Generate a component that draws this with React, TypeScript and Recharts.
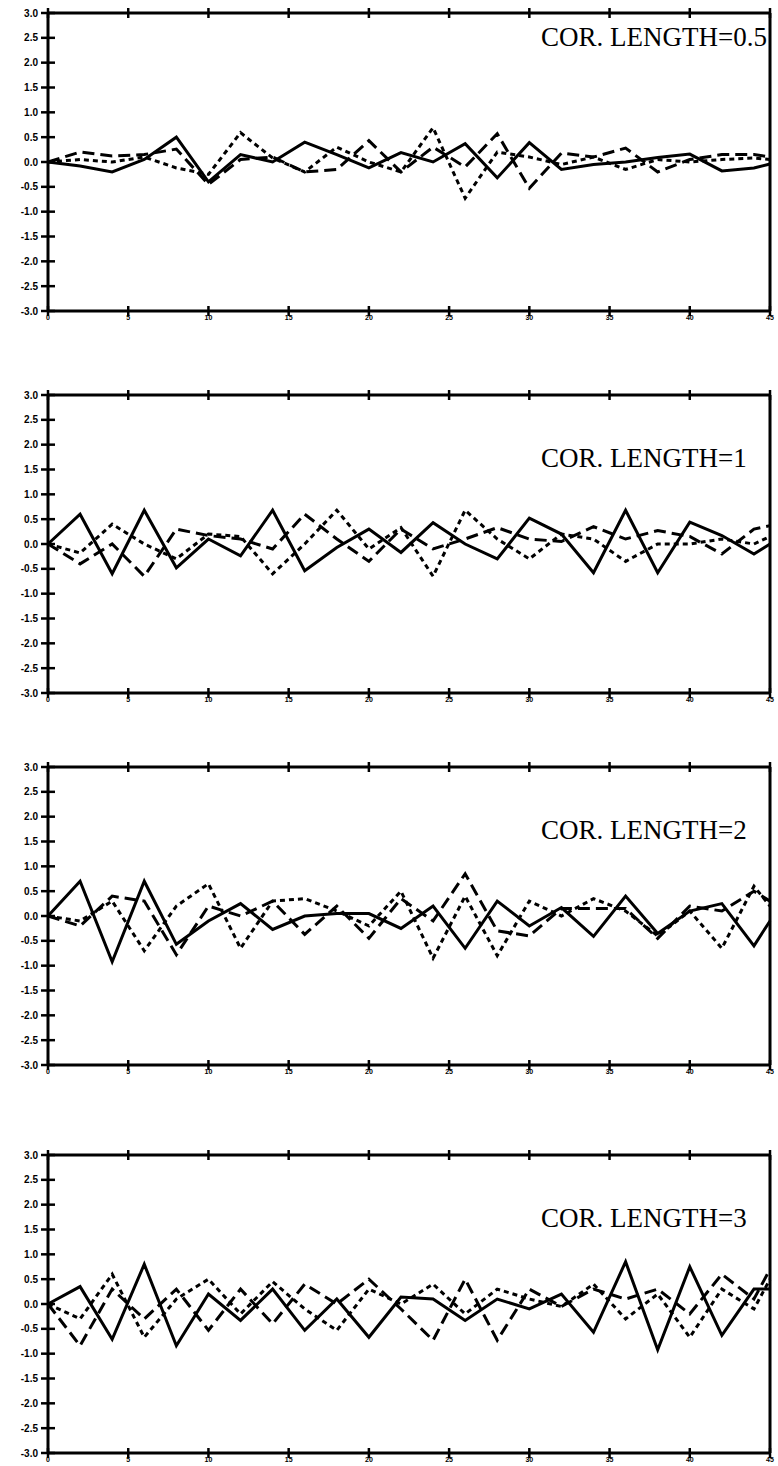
import { LineChart, Line, XAxis, YAxis } from 'recharts';

// sample positions along the profile (last point closes the frame)
const xValues = [0, 2, 4, 6, 8, 10, 12, 14, 16, 18, 20, 22, 24, 26, 28, 30, 32, 34, 36, 38, 40, 42, 44, 45];
const xTicks = [0, 5, 10, 15, 20, 25, 30, 35, 40, 45];
const yTicks = [-3, -2.5, -2, -1.5, -1, -0.5, 0, 0.5, 1, 1.5, 2, 2.5, 3];

// correlation length 0.5
const solid05 = [0, -0.08, -0.2, 0.05, 0.5, -0.4, 0.15, 0.0, 0.4, 0.15, -0.12, 0.19, 0.0, 0.37, -0.32, 0.39, -0.15, -0.05, 0.0, 0.09, 0.16, -0.18, -0.12, -0.04];
const dashed05 = [0, 0.2, 0.12, 0.15, 0.26, -0.45, 0.05, 0.1, -0.2, -0.15, 0.43, -0.2, 0.3, -0.1, 0.57, -0.53, 0.18, 0.1, 0.28, -0.2, 0.05, 0.15, 0.15, 0.1];
const dotted05 = [0, 0.05, 0.0, 0.1, -0.12, -0.25, 0.59, 0.08, -0.2, 0.3, 0.0, -0.2, 0.69, -0.73, 0.2, 0.1, -0.05, 0.1, -0.15, 0.05, 0.0, 0.05, 0.08, 0.05];

// correlation length 1
const solid1 = [0, 0.6, -0.6, 0.68, -0.48, 0.1, -0.24, 0.68, -0.54, -0.07, 0.3, -0.17, 0.43, 0.0, -0.3, 0.52, 0.2, -0.58, 0.68, -0.58, 0.44, 0.17, -0.2, 0];
const dashed1 = [0, -0.4, 0.0, -0.65, 0.3, 0.17, 0.1, -0.1, 0.6, 0.1, -0.35, 0.3, -0.1, 0.1, 0.33, 0.1, 0.05, 0.35, 0.1, 0.27, 0.15, -0.2, 0.3, 0.37];
const dotted1 = [0, -0.18, 0.4, 0.0, -0.3, 0.2, 0.15, -0.6, 0.0, 0.68, -0.1, 0.33, -0.65, 0.68, 0.1, -0.3, 0.2, 0.1, -0.35, 0.0, 0.0, 0.1, 0.0, 0.15];

// correlation length 2
const solid2 = [0, 0.7, -0.92, 0.7, -0.57, -0.1, 0.25, -0.27, 0.0, 0.05, 0.05, -0.25, 0.2, -0.65, 0.3, -0.2, 0.17, -0.41, 0.4, -0.35, 0.1, 0.25, -0.6, -0.1];
const dashed2 = [0, -0.2, 0.4, 0.3, -0.78, 0.2, 0.0, 0.3, -0.37, 0.2, -0.45, 0.35, -0.1, 0.85, -0.3, -0.4, 0.15, 0.15, 0.15, -0.45, 0.2, 0.1, 0.5, 0.3];
const dotted2 = [0, -0.1, 0.3, -0.7, 0.2, 0.65, -0.65, 0.3, 0.35, 0.1, -0.2, 0.5, -0.85, 0.4, -0.8, 0.3, 0.0, 0.35, 0.1, -0.4, 0.1, -0.65, 0.6, 0.2];

// correlation length 3
const solid3 = [0, 0.35, -0.71, 0.8, -0.84, 0.2, -0.33, 0.3, -0.53, 0.1, -0.67, 0.14, 0.1, -0.33, 0.1, -0.1, 0.2, -0.57, 0.85, -0.92, 0.75, -0.63, 0.3, 0.3];
const dashed3 = [0, -0.84, 0.3, -0.3, 0.3, -0.53, 0.3, -0.4, 0.4, 0.0, 0.5, -0.1, -0.73, 0.5, -0.73, 0.3, -0.05, 0.3, 0.1, 0.3, -0.2, 0.6, 0.1, 0.7];
const dotted3 = [0, -0.3, 0.6, -0.67, 0.1, 0.5, -0.2, 0.45, -0.1, -0.53, 0.3, 0.0, 0.4, -0.2, 0.3, 0.1, -0.05, 0.4, -0.3, 0.2, -0.67, 0.3, -0.1, 0.5];

const panels = [
  { label: 'COR. LENGTH=0.5', top: 13, labelY: 46, solid: solid05, dashed: dashed05, dotted: dotted05 },
  { label: 'COR. LENGTH=1', top: 395, labelY: 467, solid: solid1, dashed: dashed1, dotted: dotted1 },
  { label: 'COR. LENGTH=2', top: 767, labelY: 839, solid: solid2, dashed: dashed2, dotted: dotted2 },
  { label: 'COR. LENGTH=3', top: 1155, labelY: 1227, solid: solid3, dashed: dashed3, dotted: dotted3 },
];

const W = 778;
const PLOT_LEFT = 48;
const PLOT_RIGHT = 770;
const TOP_PAD = 10;
const PLOT_H = 298;
const BOTTOM_PAD = 24;
const CHART_H = TOP_PAD + PLOT_H + BOTTOM_PAD;

const fmt = (v: number) => (v === 0 ? '0.0' : v.toFixed(1));

// y ticks cross the frame; labels sit left of the axis
const LeftTick = (props: any) => (
  <g>
    <line x1={PLOT_LEFT - 7} x2={PLOT_LEFT + 7} y1={props.y} y2={props.y} stroke="#000" strokeWidth={2.5} />
    <text
      x={PLOT_LEFT - 10}
      y={props.y}
      dy={3.5}
      textAnchor="end"
      fontSize={10}
      fontWeight={900}
      fontFamily='"Liberation Sans", Arial, sans-serif'
      fill="#000"
    >
      {fmt(props.payload.value)}
    </text>
  </g>
);

const RightTick = (props: any) => (
  <line x1={PLOT_RIGHT - 7} x2={PLOT_RIGHT + 7} y1={props.y} y2={props.y} stroke="#000" strokeWidth={2.5} />
);

const BottomTick = (props: any) => (
  <g>
    <line x1={props.x} x2={props.x} y1={TOP_PAD + PLOT_H - 5} y2={TOP_PAD + PLOT_H + 5} stroke="#000" strokeWidth={2.5} />
    <text
      x={props.x}
      y={TOP_PAD + PLOT_H + 9}
      textAnchor="middle"
      fontSize={7}
      fontWeight="bold"
      fontFamily='"Liberation Sans", Arial, sans-serif'
      fill="#000"
    >
      {props.payload.value}
    </text>
  </g>
);

const TopTick = (props: any) => (
  <line x1={props.x} x2={props.x} y1={TOP_PAD - 5} y2={TOP_PAD + 5} stroke="#000" strokeWidth={2.5} />
);

const Panel = ({ p }: { p: (typeof panels)[number] }) => {
  const data = xValues.map((x, i) => ({ x, solid: p.solid[i], dashed: p.dashed[i], dotted: p.dotted[i] }));
  return (
    <div style={{ position: 'absolute', left: 0, top: p.top - TOP_PAD }}>
      <LineChart width={W} height={CHART_H} data={data} margin={{ top: 0, right: 0, bottom: 0, left: 0 }}>
        <XAxis
          xAxisId="bottom"
          dataKey="x"
          type="number"
          domain={[0, 45]}
          ticks={xTicks}
          interval={0}
          height={BOTTOM_PAD}
          tickLine={false}
          axisLine={{ stroke: '#000', strokeWidth: 3 }}
          tick={BottomTick}
        />
        <XAxis
          xAxisId="top"
          orientation="top"
          dataKey="x"
          type="number"
          domain={[0, 45]}
          ticks={xTicks}
          interval={0}
          height={TOP_PAD}
          tickLine={false}
          axisLine={{ stroke: '#000', strokeWidth: 3 }}
          tick={TopTick}
        />
        <YAxis
          yAxisId="left"
          type="number"
          domain={[-3, 3]}
          ticks={yTicks}
          interval={0}
          width={PLOT_LEFT}
          tickLine={false}
          axisLine={{ stroke: '#000', strokeWidth: 3 }}
          tick={LeftTick}
        />
        <YAxis
          yAxisId="right"
          orientation="right"
          type="number"
          domain={[-3, 3]}
          ticks={yTicks}
          interval={0}
          width={W - PLOT_RIGHT}
          tickLine={false}
          axisLine={{ stroke: '#000', strokeWidth: 3 }}
          tick={RightTick}
        />
        <Line xAxisId="bottom" yAxisId="left" dataKey="dotted" stroke="#000" strokeWidth={3} strokeDasharray="5 4" dot={false} isAnimationActive={false} />
        <Line xAxisId="bottom" yAxisId="left" dataKey="dashed" stroke="#000" strokeWidth={3} strokeDasharray="12 6" dot={false} isAnimationActive={false} />
        <Line xAxisId="bottom" yAxisId="left" dataKey="solid" stroke="#000" strokeWidth={3} dot={false} isAnimationActive={false} />
      </LineChart>
    </div>
  );
};

export default function App() {
  return (
    <div style={{ position: 'absolute', left: 0, top: 0, width: W, height: 1466, overflow: 'hidden', background: '#fff' }}>
      {panels.map((p) => (
        <Panel key={p.label} p={p} />
      ))}
      <svg width={W} height={1466} style={{ position: 'absolute', left: 0, top: 0, pointerEvents: 'none' }}>
        {panels.map((p) => (
          <text
            key={p.label}
            x={541}
            y={p.labelY}
            fontSize={27}
            fontFamily='"Liberation Serif", "Times New Roman", serif'
            fill="#000"
          >
            {p.label}
          </text>
        ))}
      </svg>
    </div>
  );
}
